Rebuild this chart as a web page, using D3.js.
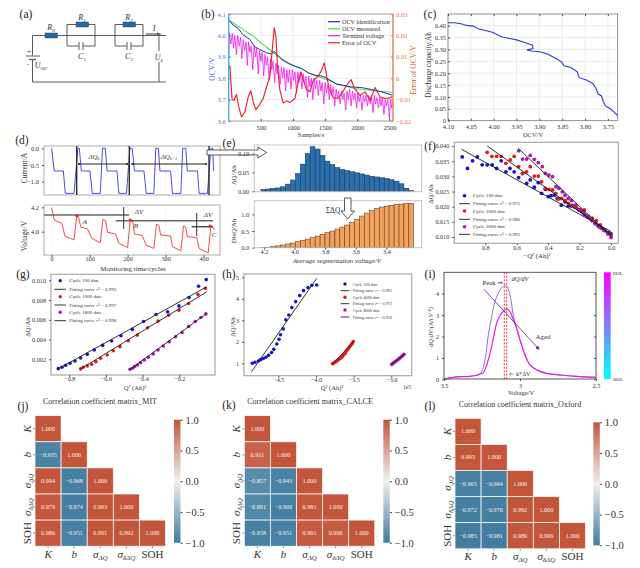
<!DOCTYPE html>
<html>
<head>
<meta charset="utf-8">
<script src="https://cdn.jsdelivr.net/npm/d3@7"></script>
<style>
	html, body { margin: 0; padding: 0; background: #fff; }
	svg { display: block; }
	text { font-family: "Liberation Serif", serif; fill: #333; }
</style>
</head>
<body>
<div id="chart"></div>
<script>
//	(b) OCV curves, [samples, volts]
var ocvMeasured = [[0,4.072],[95,4.053],[199,4.033],[303,4.012],[406,3.991],[510,3.963],[614,3.939],[718,3.913],[822,3.892],[926,3.872],[1030,3.856],[1134,3.845],[1238,3.825],[1342,3.813],[1445,3.803],[1549,3.791],[1653,3.778],[1757,3.767],[1861,3.759],[1965,3.752],[2069,3.747],[2277,3.741],[2550,3.733]];
var ocvIdentified = [[0,4.072],[69,4.048],[147,4.033],[225,4.002],[329,3.981],[406,3.947],[484,3.934],[588,3.919],[666,3.913],[708,3.927],[744,3.913],[822,3.888],[926,3.869],[1030,3.856],[1134,3.845],[1238,3.825],[1342,3.814],[1471,3.809],[1575,3.791],[1679,3.772],[1783,3.767],[1913,3.759],[2069,3.756],[2225,3.747],[2381,3.736],[2550,3.72]];
var terminalVoltage = [[0,3.90],[12,4.01],[35,3.96],[55,4.01],[75,3.94],[95,4.00],[120,3.91],[140,4.00],[165,3.95],[185,3.99],[205,3.89],[225,3.98],[250,3.93],[270,3.97],[290,3.86],[310,3.97],[330,3.92],[350,3.95],[375,3.84],[395,3.95],[415,3.90],[435,3.94],[460,3.82],[480,3.93],[500,3.88],[520,3.92],[545,3.81],[565,3.91],[585,3.86],[605,3.90],[630,3.79],[650,3.89],[670,3.84],[690,3.88],[715,3.78],[735,3.87],[755,3.82],[775,3.86],[800,3.77],[820,3.85],[840,3.80],[860,3.85],[885,3.74],[905,3.84],[925,3.78],[945,3.84],[970,3.75],[990,3.84],[1010,3.79],[1030,3.83],[1055,3.73],[1075,3.83],[1095,3.78],[1115,3.83],[1140,3.75],[1160,3.82],[1180,3.77],[1200,3.81],[1225,3.71],[1245,3.81],[1265,3.76],[1285,3.80],[1310,3.70],[1330,3.80],[1350,3.75],[1370,3.79],[1395,3.72],[1415,3.79],[1435,3.74],[1455,3.78],[1480,3.68],[1500,3.78],[1520,3.73],[1540,3.77],[1565,3.70],[1585,3.77],[1605,3.72],[1625,3.76],[1650,3.67],[1670,3.75],[1690,3.71],[1710,3.74],[1735,3.68],[1755,3.74],[1775,3.70],[1795,3.73],[1820,3.65],[1840,3.74],[1860,3.70],[1880,3.75],[1905,3.67],[1925,3.74],[1945,3.70],[1965,3.73],[1990,3.66],[2010,3.73],[2030,3.69],[2050,3.72],[2075,3.65],[2095,3.72],[2115,3.69],[2135,3.72],[2160,3.67],[2180,3.72],[2200,3.68],[2220,3.72],[2245,3.64],[2265,3.72],[2285,3.68],[2305,3.71],[2330,3.66],[2350,3.71],[2370,3.67],[2390,3.71],[2415,3.63],[2435,3.70],[2455,3.67],[2475,3.70],[2500,3.61],[2520,3.70],[2535,3.66],[2550,3.69]];
var ocvError = [[0,.0061],[20,.0053],[53,-.01],[84,-.0103],[121,-.0075],[157,-.0134],[199,-.0181],[251,-.0158],[303,-.0088],[344,-.0059],[381,-.0111],[422,-.0147],[484,-.0122],[536,-.0095],[588,-.0041],[640,.0006],[677,.0131],[708,.0236],[734,.0194],[760,.0053],[796,-.0056],[848,-.0116],[900,-.0106],[952,-.0114],[1030,-.0095],[1082,-.0017],[1123,.003],[1160,-.0009],[1212,-.0053],[1264,-.0064],[1316,-.0009],[1394,.0009],[1445,.0038],[1487,.0072],[1513,.003],[1560,-.0048],[1627,-.0091],[1695,-.0095],[1757,-.0072],[1835,-.0033],[1903,-.0006],[1955,-.0048],[2043,-.008],[2121,-.0064],[2199,-.0103],[2277,-.0044],[2355,-.0088],[2433,-.0095],[2511,-.0092],[2550,-.0084]];
var bLegend = ["OCV identification", "OCV measured", "Terminal voltage", "Error of OCV"];

//	(c) discharge capacity, [volts, Ah]
var dischargeCurve = [[4.10,.412],[4.085,.412],[4.067,.406],[4.06,.401],[4.045,.398],[4.034,.387],[4.02,.381],[4.001,.371],[3.99,.36],[3.981,.352],[3.965,.346],[3.95,.34],[3.932,.329],[3.915,.318],[3.914,.304],[3.927,.298],[3.917,.293],[3.899,.29],[3.881,.28],[3.862,.26],[3.851,.246],[3.846,.231],[3.83,.223],[3.817,.206],[3.813,.181],[3.797,.171],[3.783,.157],[3.776,.136],[3.771,.112],[3.764,.104],[3.76,.08],[3.755,.062],[3.745,.05],[3.735,.034],[3.729,.021]];

//	(d) monitoring cycles
var currentCurve = [[0,0],[7,-.68],[31,-.68],[36,-1.35],[59,-1.35],[69,0],[73,0],[78,-.68],[101,-.68],[107,-1.35],[128,-1.35],[134,0],[141,0],[146,-.68],[172,-.68],[177,-1.35],[197,-1.35],[206,0],[212,0],[218,-.68],[243,-.68],[249,-1.35],[269,-1.35],[274,0],[281,0],[285,-.68],[313,-.68],[318,-1.35],[340,-1.35],[345,0],[353,0],[357,-.68],[384,-.68],[388,-1.35],[410,-1.35],[419,0],[424,0],[426,-.68]];
var voltageCurve = [[0,4.197],[7,4.096],[27,4.068],[35,3.964],[59,3.932],[66,4.129],[71,4.118],[77,4.036],[94,4.025],[106,3.945],[128,3.91],[135,4.101],[142,4.09],[147,3.995],[168,3.981],[177,3.904],[200,3.871],[207,4.096],[214,4.082],[218,3.981],[238,3.97],[249,3.89],[269,3.863],[276,4.063],[282,4.052],[287,3.973],[313,3.964],[318,3.877],[340,3.844],[347,4.047],[353,4.036],[357,3.959],[382,3.953],[388,3.863],[412,3.827],[419,4.047],[424,4.041],[428,4.014]];
var voltagePoints = [[67,4.13],[207,4.096],[417,4.047]];

//	(e) histogram over segment voltage
var segmentVoltage = [4.204,4.172,4.140,4.107,4.075,4.043,4.011,3.978,3.946,3.914,3.882,3.849,3.817,3.785,3.753,3.720,3.688,3.656,3.624,3.591,3.559,3.527,3.495,3.462,3.430,3.398,3.366,3.333,3.301,3.269,3.237];
var segmentDq = [.005,.006,.008,.009,.012,.019,.030,.047,.072,.100,.118,.112,.095,.080,.071,.063,.058,.055,.052,.049,.046,.043,.040,.038,.036,.034,.031,.027,.020,.008,.002];
var segmentDis = [.005,.012,.03,.055,.08,.11,.14,.18,.22,.26,.30,.35,.40,.45,.50,.56,.62,.68,.76,.85,.95,1.04,1.12,1.18,1.22,1.25,1.27,1.29,1.31,1.32,1.33];

//	(f) dQ against Q^2
var fCycle100 = [[.947,.0364],[.913,.0326],[.881,.0351],[.851,.0364],[.82,.0338],[.788,.0338],[.756,.0338],[.728,.0326],[.699,.0351],[.669,.0315],[.643,.0326],[.616,.0315],[.588,.0296],[.563,.0309],[.537,.0277],[.514,.0288],[.488,.0264],[.463,.0279],[.442,.0244],[.418,.0257],[.399,.0233],[.382,.0236],[.361,.0238],[.342,.0227],[.316,.0205],[.293,.0216],[.272,.0202],[.251,.0202],[.229,.0198],[.208,.0191],[.187,.0184],[.166,.0173],[.144,.0165],[.123,.0156],[.102,.0145],[.081,.0136],[.059,.0129],[.038,.0121],[.017,.0114],[0,.011]];
var fCycle1000 = [[.788,.0379],[.758,.0366],[.728,.0366],[.699,.0366],[.669,.0343],[.641,.0354],[.616,.0366],[.588,.0332],[.563,.031],[.537,.0315],[.514,.0332],[.488,.0301],[.463,.0301],[.442,.0282],[.418,.026],[.395,.0257],[.372,.0255],[.352,.0244],[.335,.0225],[.314,.0227],[.293,.022],[.272,.0211],[.246,.0205],[.221,.0198],[.195,.0189],[.17,.0189],[.144,.0169],[.119,.0162],[.093,.0154],[.068,.014],[.042,.0123],[.017,.0112],[0,.0101]];
var fCycle2000 = [[.588,.0384],[.563,.0357],[.537,.0357],[.514,.0369],[.488,.0356],[.463,.0345],[.437,.0332],[.418,.031],[.395,.0304],[.372,.0299],[.35,.0266],[.331,.026],[.31,.0249],[.293,.0238],[.272,.0227],[.251,.022],[.225,.0205],[.2,.0189],[.174,.0178],[.149,.0165],[.123,.0154],[.098,.0143],[.072,.0132],[.047,.0123],[.021,.011],[0,.0098]];
var fFits = [[[.951,.0389],[0,.0118]],[[.788,.04],[0,.011]],[[.59,.0392],[0,.0103]]];
var fLegend = ["Cycle 100 date", "0.975", "Cycle 1000 date", "0.986", "Cycle 2000 date", "0.992"];

//	(g)
var gCycle100 = [[-.86,.00106],[-.84,.00119],[-.82,.00139],[-.796,.0016],[-.769,.00183],[-.738,.00213],[-.702,.0025],[-.664,.00294],[-.618,.00341],[-.569,.00385],[-.518,.00439],[-.456,.00503],[-.395,.00583],[-.327,.00654],[-.264,.00681],[-.202,.00741],[-.147,.00825],[-.095,.0094],[-.053,.01007]];
var gCycle1000 = [[-.738,.00103],[-.724,.0012],[-.702,.00133],[-.678,.0015],[-.655,.00176],[-.629,.0021],[-.593,.00244],[-.56,.00287],[-.524,.00328],[-.478,.00388],[-.429,.00445],[-.373,.00519],[-.316,.00587],[-.258,.00647],[-.202,.00697],[-.149,.00765],[-.098,.00855],[-.058,.00919]];
var gCycle1800 = [[-.469,.00099],[-.456,.00109],[-.444,.00126],[-.429,.00143],[-.411,.00166],[-.391,.00193],[-.369,.0022],[-.342,.00254],[-.316,.00294],[-.287,.00334],[-.255,.00378],[-.22,.00429],[-.185,.00472],[-.149,.00533],[-.113,.00583],[-.082,.00624],[-.055,.0066]];
var gFits = [[[-.865,.00099],[-.051,.00933]],[[-.742,.00099],[-.051,.00882]],[[-.473,.00092],[-.051,.00664]]];
var gLegend = ["Cycle 100 date", "0.993", "Cycle 1000 date", "0.997", "Cycle 1800 date", "0.998"];

//	(h)
var hCycle100 = [[-4.845,1],[-4.81,1.05],[-4.765,1.11],[-4.735,1.17],[-4.7,1.22],[-4.665,1.28],[-4.63,1.37],[-4.59,1.5],[-4.56,1.65],[-4.52,1.9],[-4.49,2.12],[-4.47,2.33],[-4.435,2.6],[-4.4,3.02],[-4.36,3.25],[-4.32,3.59],[-4.27,3.87],[-4.215,4.15],[-4.165,4.38],[-4.105,4.52],[-4.055,4.63],[-3.99,4.64]];
var hCycle4000 = [[-3.78,.98],[-3.765,1.01],[-3.75,1.05],[-3.735,1.08],[-3.72,1.12],[-3.705,1.16],[-3.69,1.2],[-3.675,1.24],[-3.66,1.28],[-3.65,1.32],[-3.64,1.37],[-3.625,1.42],[-3.61,1.48],[-3.6,1.55],[-3.585,1.62],[-3.57,1.68],[-3.56,1.74],[-3.545,1.8],[-3.53,1.87],[-3.515,1.94],[-3.505,2.01]];
var hCycle8000 = [[-2.995,.95],[-2.98,.99],[-2.965,1.03],[-2.95,1.07],[-2.935,1.11],[-2.92,1.15],[-2.905,1.19],[-2.89,1.24],[-2.875,1.28],[-2.86,1.33],[-2.845,1.37],[-2.83,1.42]];
var hFits = [[[-4.855,.61],[-3.99,4.95]],[[-3.78,.96],[-3.505,2.0]],[[-2.995,.96],[-2.83,1.41]]];
var hLegend = ["Cycle 100 date", "0.992", "Cycle 4000 date", "0.972", "Cycle 8000 date", "0.916"];

//	(i) incremental capacity, [volts, dQ/dV]
var icStart = [[3.5,0],[3.461,.0625],[3.417,.109],[3.373,.125],[3.329,.14],[3.285,.19],[3.263,.25]];
var icFresh = [[3.252,.36],[3.23,.91],[3.208,2.08],[3.186,2.95],[3.164,3.64],[3.143,4.03],[3.121,4.27],[3.099,4.38],[3.083,4.31],[3.066,3.95],[3.044,3.0],[3.022,2.36]];
var icAged = [[3.241,.31],[3.219,.67],[3.197,1.22],[3.175,1.91],[3.154,2.61],[3.121,3.09],[3.088,3.28],[3.066,3.16],[3.044,2.78],[3.022,2.39]];
var icTail = [[3.0,1.84],[2.967,1.14],[2.934,.67],[2.89,.44],[2.825,.28],[2.737,.2],[2.605,.125],[2.5,.09]];
var peakVoltages = [3.103,3.088];

//	(j,k,l) correlation matrices
var corrLabels = ["K", "b", "dq", "ddq", "SOH"];
var corrMit = [[1],[-.935,1],[.994,-.968,1],[.979,-.974,.993,1],[.986,-.951,.991,.992,1]];
var corrCalce = [[1],[.911,1],[-.857,-.943,1],[-.891,-.969,.981,1],[-.958,-.951,.961,.966,1]];
var corrOxford = [[1],[.995,1],[-.965,-.964,1],[-.972,-.970,.992,1],[-.985,-.981,.989,.996,1]];
var colorbarTicks = [-1,-.5,0,.5,1];

var dotBlue = "#1515c8", dotRed = "#e01c1c", dotPurple = "#a81ba8";

var svg = d3.select("#chart")
	.append("svg")
	.attr("width", 640)
	.attr("height", 568);

var defs = svg.append("defs");

loadUI();

function loadUI() {
	panelLabels();
	circuit();
	ocvPanel();
	capacityPanel();
	cyclesPanel();
	histogramPanel();
	fitPanels();
	icPanel();
	heatmap(corrMit, "Correlation coefficient matrix_MIT", 35, 415.7, 26.1, 100, 404, 174, 419.7, "mit");
	heatmap(corrCalce, "Correlation coefficient matrix_CALCE", 244.3, 415.7, 26.1, 310, 404, 383.3, 419.7, "calce");
	heatmap(corrOxford, "Correlation coefficient matrix_Oxford", 455, 418.3, 26.1, 520, 407, 593.3, 422.3, "oxford");
}

function label(str, x, y, size, opts) {
	opts = opts || {};
	var t = svg.append("text")
		.attr("x", x)
		.attr("y", y)
		.attr("font-size", size)
		.attr("text-anchor", opts.anchor || "middle")
		.attr("font-style", opts.italic ? "italic" : "normal")
		.style("fill", opts.color || "#333")
		.text(str);
	if (opts.rotate) {
		t.attr("transform", "rotate(-90," + x + "," + y + ")");
	}
	return t;
}

function frame(x, y, w, h, color, width) {
	svg.append("rect")
		.attr("x", x)
		.attr("y", y)
		.attr("width", w)
		.attr("height", h)
		.attr("fill", "none")
		.attr("stroke", color)
		.attr("stroke-width", width);
}

function drawAxis(axis, x, y, size, color) {
	var g = svg.append("g")
		.attr("transform", "translate(" + x + "," + y + ")")
		.call(axis);
	g.select(".domain").remove();
	g.selectAll("text")
		.attr("font-size", size)
		.style("fill", color || "#333")
		.style("font-family", '"Liberation Serif", serif');
	g.selectAll("line").attr("stroke", color || "#555");
	return g;
}

function seg(x1, y1, x2, y2, color, width) {
	return svg.append("line")
		.attr("x1", x1)
		.attr("y1", y1)
		.attr("x2", x2)
		.attr("y2", y2)
		.attr("stroke", color)
		.attr("stroke-width", width);
}

function panelLabels() {
	var names = [["(a)",26,18],["(b)",208,18],["(c)",430,18],["(d)",22,144],["(e)",229,147],["(f)",430,150],["(g)",23,278],["(h)",229,278],["(i)",430,278],["(j)",23,410],["(k)",229,409],["(l)",430,410]];
	names.forEach(function(d) {
		label(d[0], d[1], d[2], 11.5, {color: "#222"});
	});
}

function circuit() {
	var wire = "#5a5a5a";
	var c = d3.path();
	c.moveTo(166,35.5); c.lineTo(32.5,35.5); c.lineTo(32.5,55.5);
	c.moveTo(32.5,59.5); c.lineTo(32.5,82); c.lineTo(166,82);
	c.moveTo(159,35.5); c.lineTo(159,51);
	c.moveTo(159,62); c.lineTo(159,82);
	//	RC loops
	[[67,95],[115,143]].forEach(function(d) {
		var m = (d[0] + d[1]) / 2;
		c.moveTo(d[0],35.5); c.lineTo(d[0],24.5); c.lineTo(d[1],24.5); c.lineTo(d[1],35.5);
		c.moveTo(d[0],35.5); c.lineTo(d[0],46); c.lineTo(m-2,46);
		c.moveTo(m+2,46); c.lineTo(d[1],46); c.lineTo(d[1],35.5);
		c.moveTo(m-2,42); c.lineTo(m-2,50);
		c.moveTo(m+2,42); c.lineTo(m+2,50);
	});
	svg.append("path")
		.attr("d", c.toString())
		.attr("fill", "none")
		.attr("stroke", wire)
		.attr("stroke-width", 1);

	//	Resistors
	[[45,33],[76,22],[123,22]].forEach(function(d) {
		svg.append("rect")
			.attr("x", d[0])
			.attr("y", d[1])
			.attr("width", 12.5)
			.attr("height", 5)
			.attr("fill", "#1a6db5")
			.attr("stroke", "#444")
			.attr("stroke-width", .5);
	});

	//	Battery
	seg(26, 56, 40, 56, wire, 1);
	seg(29, 59.5, 36, 59.5, wire, 1.2);
	label("+", 29, 54, 7);
	label("-", 28, 66, 7);

	//	Current arrow
	seg(146, 34, 158, 34, wire, 1.2);
	svg.append("polygon")
		.attr("points", "157,32.5 162,34 157,35.5")
		.attr("fill", wire);

	var sym = function(base, sub, x, y) {
		var t = label(base, x, y, 8, {italic: true});
		t.append("tspan").attr("font-size", 5).attr("dy", 1.5).text(sub);
	};
	sym("R", "0", 51, 30);
	sym("R", "1", 82, 20);
	sym("R", "2", 129, 20);
	sym("C", "1", 82, 59);
	sym("C", "2", 129, 59);
	sym("U", "OC", 41, 68);
	sym("U", "L", 159, 60);
	label("I", 154, 31, 8, {italic: true});
}

function ocvPanel() {
	var x = d3.scaleLinear().domain([0,2556]).range([228.7,393]);
	var y = d3.scaleLinear().domain([3.6,4.1]).range([121,14]);
	var yErr = d3.scaleLinear().domain([-.02,.03]).range([121,14]);

	//	Grid
	[500,1000,1500,2000,2500].forEach(function(v) {
		seg(x(v), 14, x(v), 121, "#dfe7ee", .7);
	});
	[3.7,3.8,3.9,4.0].forEach(function(v) {
		seg(228.7, y(v), 393, y(v), "#dfe7ee", .7);
	});

	var line = d3.line().x(function(d) { return x(d[0]); }).y(function(d) { return y(d[1]); });
	var errLine = d3.line().x(function(d) { return x(d[0]); }).y(function(d) { return yErr(d[1]); });

	svg.append("path").attr("d", line(terminalVoltage))
		.attr("fill", "none").attr("stroke", "#f416f0").attr("stroke-width", .8);
	svg.append("path").attr("d", line(ocvMeasured))
		.attr("fill", "none").attr("stroke", "#46e04a").attr("stroke-width", 1.1);
	svg.append("path").attr("d", line(ocvIdentified))
		.attr("fill", "none").attr("stroke", "#2a2ab8").attr("stroke-width", 1);
	svg.append("path").attr("d", errLine(ocvError))
		.attr("fill", "none").attr("stroke", "#e81c24").attr("stroke-width", 1.1)
		.attr("stroke-linejoin", "round");

	frame(228.7, 14, 164.3, 107, "#8a8a8a", .8);
	seg(228.7, 14, 228.7, 121, "#4fb0e4", 1.4);
	seg(393, 14, 393, 121, "#e8905a", 1.2);

	drawAxis(d3.axisLeft(y).tickValues([3.6,3.7,3.8,3.9,4.0,4.1]).tickFormat(d3.format(".1f")).tickSize(-2), 228.7, 0, 6.5, "#4a78d8")
		.selectAll("text").attr("x", -3);
	drawAxis(d3.axisRight(yErr).tickValues([-.02,-.01,0,.01,.02,.03]).tickFormat(function(d) { return d === 0 ? "0" : d3.format(".2f")(d); }).tickSize(-2), 393, 0, 6.5, "#e0784a")
		.selectAll("text").attr("x", 3);
	drawAxis(d3.axisBottom(x).tickValues([500,1000,1500,2000,2500]).tickFormat(d3.format("d")).tickSize(-2), 0, 121, 6.5)
		.selectAll("text").attr("y", 4);

	label("OCV/V", 215, 69, 7.5, {rotate: true, color: "#3e62e0"});
	label("Error of OCV/V", 416, 70, 7.5, {rotate: true, color: "#d8502e"});
	label("Samples/s", 311, 137, 6.5);

	//	Legend
	var colors = ["#2a2ab8", "#46e04a", "#f416f0", "#e81c24"];
	bLegend.forEach(function(name, i) {
		var ly = 21.7 + i * 7;
		seg(328, ly, 340, ly, colors[i], 1.2);
		label(name, 342, ly + 2, 6.2, {anchor: "start"});
	});
}

function capacityPanel() {
	var x = d3.scaleLinear().domain([4.10,3.7285]).range([448,617.7]);
	var y = d3.scaleLinear().domain([0,.449]).range([120.7,14]);

	var xTicks = [4.10,4.05,4.00,3.95,3.90,3.85,3.80,3.75];
	var yTicks = [.05,.10,.15,.20,.25,.30,.35,.40];
	xTicks.forEach(function(v) {
		seg(x(v), 14, x(v), 120.7, "#e4e4e4", .7);
	});
	yTicks.forEach(function(v) {
		seg(448, y(v), 617.7, y(v), "#e4e4e4", .7);
	});

	svg.append("path")
		.attr("d", d3.line().x(function(d) { return x(d[0]); }).y(function(d) { return y(d[1]); })(dischargeCurve))
		.attr("fill", "none")
		.attr("stroke", "#2b39d0")
		.attr("stroke-width", 1.1);

	frame(448, 14, 169.7, 106.7, "#777", .8);
	drawAxis(d3.axisBottom(x).tickValues(xTicks).tickFormat(d3.format(".2f")).tickSize(-2), 0, 120.7, 6.5)
		.selectAll("text").attr("y", 4);
	drawAxis(d3.axisTop(x).tickValues(xTicks).tickFormat("").tickSize(-2), 0, 14, 6.5);
	drawAxis(d3.axisLeft(y).tickValues([0].concat(yTicks)).tickFormat(function(d) { return d === 0 ? "0" : d3.format(".2f")(d); }).tickSize(-2), 448, 0, 6.5)
		.selectAll("text").attr("x", -2);

	label("Discharge capacity/Ah", 431, 65, 7.2, {rotate: true});
	label("OCV/V", 533, 137, 6.5);
}

function cyclesPanel() {
	var x = d3.scaleLinear().domain([-20,443]).range([44,220]);
	var yCur = d3.scaleLinear().domain([0,-1]).range([148.3,181.7]);
	var yVol = d3.scaleLinear().domain([4.0,4.2]).range([231.7,207.3]);

	[0,100,200,300,400].forEach(function(v) {
		seg(x(v), 146, x(v), 195, "#eeeeee", .6);
		seg(x(v), 205, x(v), 255, "#eeeeee", .6);
	});

	svg.append("path")
		.attr("d", d3.line().x(function(d) { return x(d[0]); }).y(function(d) { return yCur(d[1]); })(currentCurve))
		.attr("fill", "none").attr("stroke", "#3a3ad0").attr("stroke-width", .9);
	svg.append("path")
		.attr("d", d3.line().x(function(d) { return x(d[0]); }).y(function(d) { return yVol(d[1]); })(voltageCurve))
		.attr("fill", "none").attr("stroke", "#e83a3a").attr("stroke-width", .9);

	frame(44, 146, 176, 49, "#9a9a9a", .8);
	frame(44, 205, 176, 50, "#9a9a9a", .8);

	drawAxis(d3.axisLeft(yCur).tickValues([0,-.5,-1]).tickFormat(d3.format(".1f")).tickSize(2), 44, 0, 6.5);
	drawAxis(d3.axisLeft(yVol).tickValues([4.0,4.2]).tickFormat(d3.format(".1f")).tickSize(2), 44, 0, 6.5);
	drawAxis(d3.axisBottom(x).tickValues([0,100,200,300,400]).tickFormat(d3.format("d")).tickSize(2), 0, 255, 6.2)
		.selectAll("text").attr("y", 1.5);

	label("Current/A", 27, 168, 7.5, {rotate: true});
	label("Voltage/V", 27, 236, 7.5, {rotate: true});
	label("Monitoring time/cycles", 133, 270.5, 7);

	//	Delta Q markers
	[76.7,129.3,209].forEach(function(v) {
		seg(v, 146, v, 195, "#222", 1.3);
	});
	seg(78, 164, 128, 164, "#222", 1);
	seg(131, 164, 207, 164, "#222", 1);
	[79,127,133,206].forEach(function(v) {
		svg.append("circle").attr("cx", v).attr("cy", 164).attr("r", 1).attr("fill", "#222");
	});
	label("ΔQ", 94, 159, 7, {italic: true}).append("tspan").attr("font-size", 4.5).attr("dy", 1).text("k");
	label("ΔQ", 169, 159, 7, {italic: true}).append("tspan").attr("font-size", 4.5).attr("dy", 1).text("k+1");

	//	Delta V markers
	seg(44, 215, 129, 215, "#666", 1.4);
	seg(115.7, 220.7, 213, 220.7, "#666", 1.4);
	seg(191.7, 226.7, 213, 226.7, "#444", 1.4);
	seg(123.7, 207, 123.7, 229, "#333", 1);
	seg(196.7, 213, 196.7, 236, "#333", 1);
	svg.selectAll(".vpt")
		.data(voltagePoints)
		.enter()
		.append("circle")
		.attr("class", "vpt")
		.attr("cx", function(d) { return x(d[0]); })
		.attr("cy", function(d) { return yVol(d[1]); })
		.attr("r", 1.5)
		.attr("fill", "#e81c24");
	label("A", 85, 224, 7, {italic: true});
	label("B", 136, 228, 7, {italic: true});
	label("C", 214, 237, 7, {italic: true});
	label("ΔV", 139, 214, 7, {italic: true});
	label("ΔV", 208, 217, 7, {italic: true});

	//	Hollow arrow to the histogram
	svg.append("polygon")
		.attr("points", "207,150 258,150 258,147 266.5,152.5 258,158 258,155 207,155")
		.attr("fill", "#fff")
		.attr("stroke", "#333")
		.attr("stroke-width", .8);
}

function histogramPanel() {
	var x = d3.scaleLinear().domain([4.263,3.169]).range([254.3,421.7]);
	var yDq = d3.scaleLinear().domain([0,.1227]).range([191.3,145]);
	var yDis = d3.scaleLinear().domain([0,1.41]).range([247.7,200.7]);
	var w = x(3.4) - x(3.432);

	svg.selectAll(".dq-bar")
		.data(d3.zip(segmentVoltage, segmentDq))
		.enter()
		.append("rect")
		.attr("class", "dq-bar")
		.attr("x", function(d) { return x(d[0]) - w / 2; })
		.attr("y", function(d) { return yDq(d[1]); })
		.attr("width", w)
		.attr("height", function(d) { return 191.3 - yDq(d[1]); })
		.attr("fill", "#2a70ae")
		.attr("stroke", "#1c2c3c")
		.attr("stroke-width", .5);

	svg.selectAll(".dis-bar")
		.data(d3.zip(segmentVoltage, segmentDis))
		.enter()
		.append("rect")
		.attr("class", "dis-bar")
		.attr("x", function(d) { return x(d[0]) - w / 2; })
		.attr("y", function(d) { return yDis(d[1]); })
		.attr("width", w)
		.attr("height", function(d) { return 247.7 - yDis(d[1]); })
		.attr("fill", "#f5a35c")
		.attr("stroke", "#4a3020")
		.attr("stroke-width", .5);

	frame(254.3, 145, 167.4, 46.7, "#bdbdbd", .9);
	frame(254.3, 200.7, 167.4, 47, "#bdbdbd", .9);

	drawAxis(d3.axisLeft(yDq).tickValues([0,.05,.10]).tickFormat(d3.format(".2f")).tickSize(2), 254.3, 0, 6.5);
	drawAxis(d3.axisLeft(yDis).tickValues([0,.5,1]).tickFormat(d3.format(".1f")).tickSize(2), 254.3, 0, 6.5);
	drawAxis(d3.axisBottom(x).tickValues([4.2,4.0,3.8,3.6,3.4]).tickFormat(d3.format(".1f")).tickSize(2), 0, 247.7, 6.2)
		.selectAll("text").attr("y", 1.5);

	label("ΔQ/Ah", 236, 175, 6.8, {rotate: true});
	label("DisQ/Ah", 236, 231, 6.8, {rotate: true});
	label("Average segmentation voltage/V", 337, 263, 6.8, {italic: true});

	svg.append("polygon")
		.attr("points", "344.5,198 351,198 351,211 354.5,211 347.7,219 341,211 344.5,211")
		.attr("fill", "#fff")
		.attr("stroke", "#333")
		.attr("stroke-width", .8);
	label("ΣΔQ", 333, 213, 7.5);
}

function scatterPanel(box, x, y, series, fits, legend, dotR, legendPos) {
	[0,1,2].forEach(function(k) {
		var color = [dotBlue, dotRed, dotPurple][k];
		svg.append("g")
			.selectAll("circle")
			.data(series[k])
			.enter()
			.append("circle")
			.attr("cx", function(d) { return x(d[0]); })
			.attr("cy", function(d) { return y(d[1]); })
			.attr("r", dotR)
			.attr("fill", color);
	});
	fits.forEach(function(f) {
		seg(x(f[0][0]), y(f[0][1]), x(f[1][0]), y(f[1][1]), "#1c1c1c", .9);
	});

	frame(box[0], box[1], box[2], box[3], "#a8a8a8", 1.2);

	//	Legend
	legend.forEach(function(name, i) {
		var ly = legendPos.ys[i];
		if (i % 2 === 0) {
			svg.append("circle")
				.attr("cx", (legendPos.x0 + legendPos.x1) / 2)
				.attr("cy", ly)
				.attr("r", dotR * .95)
				.attr("fill", [dotBlue, dotRed, dotPurple][i / 2]);
			label(name, legendPos.tx, ly + 1.7, legendPos.size, {anchor: "start"});
		} else {
			seg(legendPos.x0, ly, legendPos.x1, ly, "#333", 1);
			var t = label("Fitting curve ", legendPos.tx, ly + 1.7, legendPos.size, {anchor: "start"});
			t.append("tspan").attr("font-style", "italic").text("r");
			t.append("tspan").text("² = " + name);
		}
	});
}

function fitPanels() {
	//	(f)
	var fx = d3.scaleLinear().domain([.8,0]).range([485.3,611]);
	var fy = d3.scaleLinear().domain([.010,.040]).range([237,146]);
	scatterPanel([454.3,142.3,164,101], fx, fy, [fCycle100, fCycle1000, fCycle2000], fFits, fLegend, 1.9,
		{x0: 459, x1: 470, tx: 473, size: 5, ys: [195.7,203.7,211,219.3,226.7,234.3]});
	drawAxis(d3.axisLeft(fy).tickValues([.010,.015,.020,.025,.030,.035,.040]).tickFormat(d3.format(".3f")).tickSize(2), 454.3, 0, 6.2);
	drawAxis(d3.axisBottom(fx).tickValues([.8,.6,.4,.2,0]).tickFormat(d3.format(".1f")).tickSize(2), 0, 243.3, 6.2)
		.selectAll("text").attr("y", 2);
	label("ΔQ/Ah", 433, 194, 6.8, {rotate: true});
	label("−Q² (Ah)²", 537, 258, 6.8);

	//	(g)
	var gx = d3.scaleLinear().domain([-.8,-.2]).range([69.3,179.3]);
	var gy = d3.scaleLinear().domain([.002,.010]).range([359.3,280.3]);
	scatterPanel([51,274.3,164,100.7], gx, gy, [gCycle100, gCycle1000, gCycle1800], gFits, gLegend, 1.8,
		{x0: 54.5, x1: 66, tx: 69.3, size: 5, ys: [280.7,289.3,296.7,305,312.3,320.7]});
	drawAxis(d3.axisLeft(gy).tickValues([.002,.004,.006,.008,.010]).tickFormat(d3.format(".3f")).tickSize(2), 51, 0, 6.2);
	drawAxis(d3.axisBottom(gx).tickValues([-.8,-.6,-.4,-.2]).tickFormat(d3.format(".1f")).tickSize(2), 0, 375, 6.2)
		.selectAll("text").attr("y", 2);
	label("ΔQ/Ah", 30, 327, 6.8, {rotate: true});
	label("Q² (Ah)²", 135, 390, 6.5);

	//	(h)
	var hx = d3.scaleLinear().domain([-4.5,-3]).range([278.3,391.3]);
	var hy = d3.scaleLinear().domain([1,5]).range([363.3,277.3]);
	scatterPanel([244,274,167.7,101.7], hx, hy, [hCycle100, hCycle4000, hCycle8000], hFits, hLegend, 1.8,
		{x0: 340.7, x1: 349.3, tx: 352.7, size: 4.2, ys: [284,290.7,297.3,303.7,310,317]});
	drawAxis(d3.axisLeft(hy).tickValues([1,2,3,4,5]).tickFormat(d3.format("d")).tickSize(2), 244, 0, 6.2);
	drawAxis(d3.axisBottom(hx).tickValues([-4.5,-4,-3.5,-3]).tickFormat(d3.format(".1f")).tickSize(2), 0, 375.7, 6.2)
		.selectAll("text").attr("y", 2);
	label("ΔQ/Ah", 235, 327, 6.8, {rotate: true});
	label("Q² (Ah)²", 332, 390, 6.5);
	label("1e5", 407, 389, 5.5);
}

function icPanel() {
	var x = d3.scaleLinear().domain([3.5,2.5]).range([444,596]);
	var y = d3.scaleLinear().domain([0,4]).range([379.3,293.7]);
	var line = d3.line()
		.x(function(d) { return x(d[0]); })
		.y(function(d) { return y(d[1]); })
		.curve(d3.curveCatmullRom);

	svg.append("path").attr("d", line(icStart.concat(icFresh, icTail)))
		.attr("fill", "none").attr("stroke", "#8f6ee8").attr("stroke-width", 1);
	svg.append("path").attr("d", line(icStart.concat(icAged, icTail)))
		.attr("fill", "none").attr("stroke", "#e41fe4").attr("stroke-width", 1.2);

	peakVoltages.forEach(function(v) {
		seg(x(v), 272.3, x(v), 379, "#e8565a", 1.2).attr("stroke-dasharray", "2,1.5");
	});

	frame(444, 272.3, 152, 106.7, "#444", .9);
	drawAxis(d3.axisLeft(y).tickValues([0,1,2,3,4]).tickFormat(d3.format("d")).tickSize(2), 444, 0, 6.2);
	drawAxis(d3.axisRight(y).tickValues([0,1,2,3,4]).tickFormat("").tickSize(2), 594, 0, 6.2);
	drawAxis(d3.axisBottom(x).tickValues([3.5,3,2.5]).tickFormat(d3.format("")).tickSize(2), 0, 379, 6.2);

	label("dQ/dV/(Ah·V⁻¹)", 433, 327, 6.5, {rotate: true, italic: true});
	label("Voltage/V", 521, 395, 6.5);

	//	Annotations
	label("Peak ⇒", 493, 285, 6.8);
	label("dQ/dV", 520, 281, 6.5, {italic: true});
	label("Aged", 543, 339, 7);
	label("⇐ k*ΔV", 520, 376, 6.2);
	defs.append("marker")
		.attr("id", "aged-arrow")
		.attr("viewBox", "0 0 6 6")
		.attr("refX", 5)
		.attr("refY", 3)
		.attr("markerWidth", 5)
		.attr("markerHeight", 5)
		.attr("orient", "auto")
		.append("path")
		.attr("d", "M0,0L6,3L0,6Z")
		.attr("fill", "#6a1a8a");
	seg(484, 289.3, 539, 349.3, "#6a1a8a", .8).attr("marker-end", "url(#aged-arrow)");

	//	Colorbar
	var grad = defs.append("linearGradient")
		.attr("id", "ic-bar")
		.attr("x1", 0).attr("y1", 1)
		.attr("x2", 0).attr("y2", 0);
	grad.append("stop").attr("offset", 0).attr("stop-color", "#00ffff");
	grad.append("stop").attr("offset", 1).attr("stop-color", "#ff00ff");
	svg.append("rect")
		.attr("x", 604)
		.attr("y", 272.3)
		.attr("width", 6.7)
		.attr("height", 106.7)
		.attr("fill", "url(#ic-bar)");
	label("EOL", 613, 275, 5, {anchor: "start"});
	label("BOL", 613, 381, 5, {anchor: "start"});
}

function corrLabel(group, name, x, y, rotate) {
	var t = group.append("text")
		.attr("text-anchor", "middle")
		.attr("font-size", 11)
		.attr("x", x)
		.attr("y", y);
	if (rotate) {
		t.attr("transform", "rotate(-90," + x + "," + y + ")");
	}
	if (name === "SOH") {
		t.text("SOH");
	} else if (name === "K" || name === "b") {
		t.attr("font-style", "italic").text(name);
	} else {
		t.attr("font-style", "italic").text("σ");
		t.append("tspan")
			.attr("font-size", 7)
			.attr("dy", 2)
			.text(name === "dq" ? "ΔQ" : "δΔQ");
	}
}

function heatmap(matrix, title, gx, gy, cell, tx, ty, bx, by, id) {
	var color = d3.scaleLinear()
		.domain([-1,0,1])
		.range(["#3f7b9f", "#f1f0f0", "#c2553a"]);
	var x = d3.scaleBand().domain(corrLabels).range([gx, gx + cell * 5]);
	var y = d3.scaleBand().domain(corrLabels).range([gy, gy + cell * 5]);
	var g = svg.append("g");

	matrix.forEach(function(row, i) {
		row.forEach(function(v, j) {
			g.append("rect")
				.attr("x", x(corrLabels[j]))
				.attr("y", y(corrLabels[i]))
				.attr("width", x.bandwidth())
				.attr("height", y.bandwidth())
				.attr("fill", color(v))
				.attr("stroke", "#fff")
				.attr("stroke-width", .7);
			g.append("text")
				.attr("x", x(corrLabels[j]) + cell / 2)
				.attr("y", y(corrLabels[i]) + cell / 2 + 2)
				.attr("text-anchor", "middle")
				.attr("font-size", 6.2)
				.style("fill", "#fbeeea")
				.text(d3.format(".3f")(v).replace("-", "−"));
		});
	});

	corrLabels.forEach(function(name) {
		seg(x(name) + cell / 2, gy + cell * 5, x(name) + cell / 2, gy + cell * 5 + 2, "#444", .6);
		seg(gx - 2, y(name) + cell / 2, gx, y(name) + cell / 2, "#444", .6);
		corrLabel(g, name, x(name) + cell / 2, gy + cell * 5 + 11.5, false);
		corrLabel(g, name, gx - 4, y(name) + cell / 2, true);
	});

	label(title, tx, ty, 8, {color: "#333"});

	//	Colorbar
	var gradId = "corr-" + id;
	var grad = defs.append("linearGradient")
		.attr("id", gradId)
		.attr("x1", 0).attr("y1", 1)
		.attr("x2", 0).attr("y2", 0);
	colorbarTicks.forEach(function(v, i) {
		grad.append("stop")
			.attr("offset", i / 4)
			.attr("stop-color", color(v));
	});
	svg.append("rect")
		.attr("x", bx)
		.attr("y", by)
		.attr("width", 6.5)
		.attr("height", 123)
		.attr("fill", "url(#" + gradId + ")");
	var scale = d3.scaleLinear().domain([-1,1]).range([by + 123, by]);
	drawAxis(d3.axisRight(scale).tickValues(colorbarTicks).tickFormat(function(d) { return d3.format(".1f")(d).replace("-", "−"); }).tickSize(2), bx + 6.5, 0, 10.5, "#333");
}
</script>
</body>
</html>
